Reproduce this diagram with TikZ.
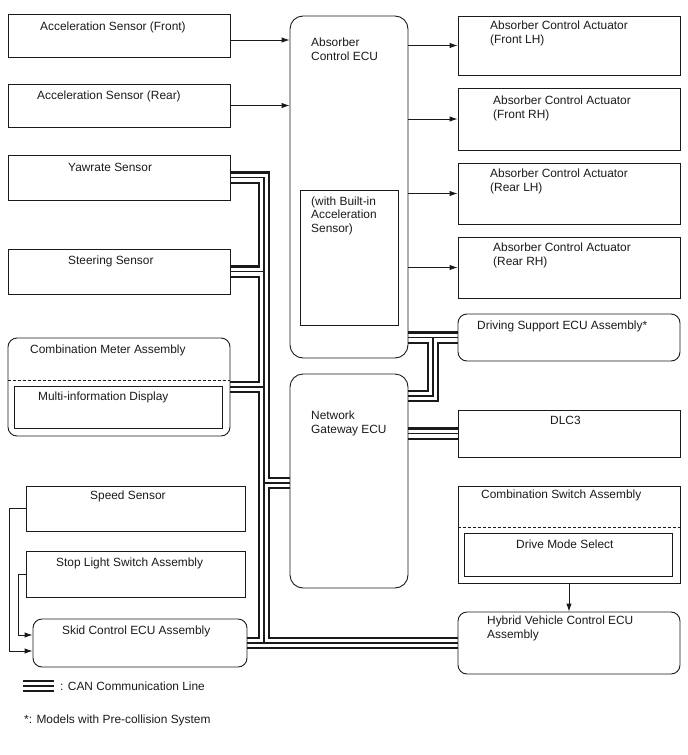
\documentclass[tikz,border=0pt]{standalone}
\usepackage{fontspec}
\setmainfont{Liberation Sans}
\usetikzlibrary{arrows.meta,backgrounds}
\definecolor{ink}{HTML}{1A1A1A}
\definecolor{paper}{HTML}{FFFFFF}
\tikzset{
  blk/.style={draw=ink,line width=0.9pt,inner sep=0pt},
  rblk/.style={blk,rounded corners=9pt},
  ecublk/.style={blk,rounded corners=13pt},
  txt/.style={anchor=base west,inner sep=0pt,align=left,font=\fontsize{11.9}{13.3}\selectfont,text=ink},
  sigarr/.style={-{Latex[length=8pt,width=5.5pt]},line width=0.9pt,color=ink},
  dashsep/.style={draw=ink,line width=0.8pt,dash pattern=on 3pt off 2pt}
}

\begin{document}
\begin{tikzpicture}[x=1pt,y=-1pt]
  \useasboundingbox (0,0) rectangle (688,755);
  \node[blk,minimum width=222pt,minimum height=43pt] (accf) at (119,35.5) {};
  \node[blk,minimum width=222pt,minimum height=43pt] (accr) at (119,105.5) {};
  \node[blk,minimum width=222pt,minimum height=45pt] (yaw) at (119,177.5) {};
  \node[blk,minimum width=222pt,minimum height=45pt] (steer) at (119,271.5) {};
  \node[rblk,minimum width=222pt,minimum height=98pt] (cmeter) at (119,387) {};
  \node[blk,minimum width=208pt,minimum height=42pt] (mid) at (118,407) {};
  \node[blk,minimum width=219pt,minimum height=45pt] (speed) at (135.5,508.5) {};
  \node[blk,minimum width=219pt,minimum height=46pt] (stop) at (135.5,574) {};
  \node[rblk,minimum width=214pt,minimum height=48pt] (skid) at (140,643) {};
  \node[ecublk,minimum width=118pt,minimum height=342pt] (absecu) at (349,187) {};
  \node[blk,minimum width=98pt,minimum height=135pt] (accin) at (349,257.5) {};
  \node[ecublk,minimum width=118pt,minimum height=214pt] (gw) at (349,481) {};
  \node[blk,minimum width=222pt,minimum height=59pt] (act1) at (569,45.5) {};
  \node[blk,minimum width=222pt,minimum height=62pt] (act2) at (569,119) {};
  \node[blk,minimum width=222pt,minimum height=61pt] (act3) at (569,193.5) {};
  \node[blk,minimum width=222pt,minimum height=61pt] (act4) at (569,267.5) {};
  \node[rblk,minimum width=222pt,minimum height=47pt] (ds) at (569,337.5) {};
  \node[blk,minimum width=222pt,minimum height=47pt] (dlc) at (569,433.5) {};
  \node[blk,minimum width=222pt,minimum height=97pt] (cswitch) at (569,534.5) {};
  \node[blk,minimum width=208pt,minimum height=43pt] (dms) at (568,554.5) {};
  \node[rblk,minimum width=222pt,minimum height=62pt] (hv) at (569,643) {};
  \draw[dashsep] (cmeter.west |- 0,380) -- (cmeter.east |- 0,380);
  \draw[dashsep] (cswitch.west |- 0,527) -- (cswitch.east |- 0,527);

  \node[txt] (accf-t) at (40,30) {Acceleration Sensor (Front)};
  \node[txt] (accr-t) at (37,99) {Acceleration Sensor (Rear)};
  \node[txt] (yaw-t) at (68,171) {Yawrate Sensor};
  \node[txt] (steer-t) at (68,264) {Steering Sensor};
  \node[txt] (cmeter-t) at (30,353) {Combination Meter Assembly};
  \node[txt] (mid-t) at (38,400) {Multi-information Display};
  \node[txt] (speed-t) at (90,499) {Speed Sensor};
  \node[txt] (stop-t) at (56,566) {Stop Light Switch Assembly};
  \node[txt] (skid-t) at (62,634) {Skid Control ECU Assembly};
  \node[txt] (absecu-t) at (311,60) {Absorber\\Control ECU};
  \node[txt] (accin-t) at (311,232) {(with Built-in\\Acceleration\\Sensor)};
  \node[txt] (gw-t) at (311,433) {Network\\Gateway ECU};
  \node[txt] (act1-t) at (490,43) {Absorber Control Actuator\\(Front LH)};
  \node[txt] (act2-t) at (493,118) {Absorber Control Actuator\\(Front RH)};
  \node[txt] (act3-t) at (490,191) {Absorber Control Actuator\\(Rear LH)};
  \node[txt] (act4-t) at (493,265) {Absorber Control Actuator\\(Rear RH)};
  \node[txt] (ds-t) at (477,329) {Driving Support ECU Assembly*};
  \node[txt] (dlc-t) at (550,424) {DLC3};
  \node[txt] (cswitch-t) at (481,498) {Combination Switch Assembly};
  \node[txt] (dms-t) at (516,548) {Drive Mode Select};
  \node[txt] (hv-t) at (487,638) {Hybrid Vehicle Control ECU\\Assembly};

  \draw[sigarr] ([yshift=-4.5pt]accf.east) -- ([yshift=-4.5pt]accf.east -| absecu.west);
  \draw[sigarr] (accr.east) -- (accr.east -| absecu.west);
  \draw[sigarr] (absecu.east |- act1.west) -- (act1.west);
  \draw[sigarr] (absecu.east |- act2.west) -- (act2.west);
  \draw[sigarr] (absecu.east |- act3.west) -- (act3.west);
  \draw[sigarr] (absecu.east |- act4.west) -- (act4.west);
  \draw[sigarr] (speed.west) -- ++(-16,0) |- ([yshift=-8pt]skid.west);
  \draw[sigarr] (stop.west) -- ++(-7,0) |- ([yshift=8pt]skid.west);
  \draw[sigarr] (cswitch.south) -- (hv.north);

  \coordinate (trunkend) at (264,0 |- skid.east);
  \coordinate (trunkgw) at (264,483);
  \coordinate (dsbr) at (433,0 |- ds.west);
  \coordinate (gwtop) at (gw.east |- 0,396);
  \coordinate (canA) at (23,686);
  \coordinate (canB) at (54,686);
  \begin{pgfonlayer}{background}
    \foreach \w/\c in {12.5pt/ink,8pt/paper,1.3pt/ink}{
      \draw[line width=\w,color=\c] (yaw.east) -| (trunkend);
      \draw[line width=\w,color=\c] (steer.east) -- (steer.east -| trunkend);
      \draw[line width=\w,color=\c] (cmeter.east) -- (cmeter.east -| trunkend);
      \draw[line width=\w,color=\c] (trunkgw) -- (trunkgw -| gw.west);
      \draw[line width=\w,color=\c] (skid.east) -- (hv.west);
      \draw[line width=\w,color=\c] (absecu.east |- ds.west) -- (ds.west);
      \draw[line width=\w,color=\c] (dsbr) |- (gwtop);
      \draw[line width=\w,color=\c] (gw.east |- dlc.west) -- (dlc.west);
      \draw[line width=\w,color=\c] (canA) -- (canB);
    }
  \end{pgfonlayer}
  \node[txt] (can-t) at (60,690) {: CAN Communication Line};
  \node[txt] (note-t) at (24,723) {*: Models with Pre-collision System};
\end{tikzpicture}
\end{document}
